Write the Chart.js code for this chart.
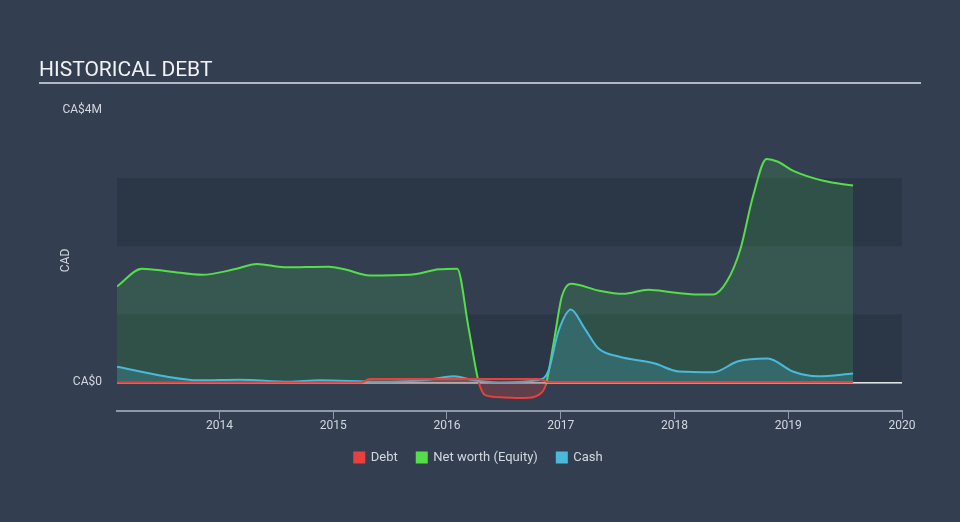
<!DOCTYPE html>
<html>
<head>
<meta charset="utf-8">
<script src="https://cdn.jsdelivr.net/npm/chart.js@4/dist/chart.umd.min.js"></script>
<style>
    body { margin: 0; background: #333f50; }
    #wrap { position: relative; width: 960px; height: 522px; }
    #titolo {
        position: absolute; left: 39px; top: 57px; width: 882px;
        font-family: Roboto, sans-serif; font-size: 21px; color: #f0f2f5;
        border-bottom: 2px solid #b4bac4; padding-bottom: 1px; line-height: 24px;
    }
    canvas { position: absolute; left: 0; top: 0; }
</style>
</head>
<body>
<div id="wrap">
    <canvas id="grafico" width="960" height="522"></canvas>
    <div id="titolo">HISTORICAL DEBT</div>
</div>
<script>
// anni decimali e valori in milioni di CAD
const anniEquity = [2013.10, 2013.32, 2013.56, 2013.85, 2014.13, 2014.33, 2014.57, 2014.96, 2015.10, 2015.32, 2015.67, 2015.93, 2016.09, 2016.19, 2016.28, 2016.34, 2016.50, 2016.68, 2016.81, 2016.87, 2016.94, 2017.01, 2017.09, 2017.33, 2017.55, 2017.77, 2017.99, 2018.21, 2018.34, 2018.46, 2018.58, 2018.69, 2018.81, 2018.91, 2019.04, 2019.31, 2019.57];
const valoriEquity = [1.41, 1.67, 1.63, 1.58, 1.66, 1.74, 1.69, 1.70, 1.66, 1.57, 1.58, 1.66, 1.67, 0.80, 0.00, -0.19, -0.22, -0.23, -0.18, -0.03, 0.60, 1.26, 1.45, 1.35, 1.30, 1.36, 1.32, 1.29, 1.29, 1.48, 1.96, 2.73, 3.28, 3.24, 3.11, 2.96, 2.89];

const anniCash = [2013.10, 2013.52, 2013.82, 2014.18, 2014.61, 2014.88, 2015.40, 2015.84, 2016.06, 2016.24, 2016.46, 2016.81, 2016.89, 2016.98, 2017.09, 2017.20, 2017.33, 2017.51, 2017.82, 2018.04, 2018.34, 2018.56, 2018.82, 2019.04, 2019.26, 2019.57];
const valoriCash = [0.23, 0.09, 0.03, 0.04, 0.01, 0.03, 0.01, 0.04, 0.09, 0.03, 0.00, 0.04, 0.16, 0.75, 1.07, 0.82, 0.50, 0.38, 0.28, 0.16, 0.15, 0.31, 0.35, 0.16, 0.09, 0.13];

const anniDebito = [2013.10, 2015.25, 2015.32, 2016.80, 2016.90, 2019.57];
const valoriDebito = [0.00, 0.00, 0.05, 0.05, 0.005, 0.005];

const tickY = [0, 4];

const rosso = '#e8403c', verde = '#55dd4a', azzurro = '#4ab9dc';

function punti(anni, valori) {
    return anni.map((a, i) => ({ x: a, y: valori[i] }));
}

// bande scure orizzontali
const bande = {
    id: 'bande',
    beforeDatasetsDraw(chart) {
        const { ctx, chartArea, scales } = chart;
        ctx.save();
        ctx.fillStyle = 'rgba(30,40,54,0.35)';
        [[0, 1], [2, 3]].forEach(([a, b]) => {
            const y1 = scales.y.getPixelForValue(b);
            const y2 = scales.y.getPixelForValue(a);
            ctx.fillRect(chartArea.left, y1, chartArea.right - chartArea.left, y2 - y1);
        });
        ctx.restore();
    }
};

const testo = '#d3d8df';

new Chart(document.getElementById('grafico'), {
    type: 'line',
    data: {
        datasets: [{
            label: 'Debt',
            data: punti(anniDebito, valoriDebito),
            borderColor: rosso,
            backgroundColor: rosso,
            borderWidth: 2,
            pointRadius: 0,
            cubicInterpolationMode: 'monotone',
            fill: { target: 'origin', above: 'rgba(232,64,60,0.25)' },
            order: 1
        }, {
            label: 'Net worth (Equity)',
            data: punti(anniEquity, valoriEquity),
            borderColor: verde,
            backgroundColor: verde,
            borderWidth: 2,
            pointRadius: 0,
            cubicInterpolationMode: 'monotone',
            segment: {
                borderColor: c => (c.p0.parsed.y <= 0 && c.p1.parsed.y <= 0) ? rosso : verde
            },
            fill: { target: 'origin', above: 'rgba(70,190,80,0.2)', below: 'rgba(232,64,60,0.25)' },
            order: 3
        }, {
            label: 'Cash',
            data: punti(anniCash, valoriCash),
            borderColor: azzurro,
            backgroundColor: azzurro,
            borderWidth: 2,
            pointRadius: 0,
            cubicInterpolationMode: 'monotone',
            fill: { target: 'origin', above: 'rgba(74,185,220,0.22)' },
            order: 2
        }]
    },
    options: {
        responsive: false,
        animation: false,
        layout: { padding: { left: 55, top: 110, right: 58, bottom: 48 } },
        plugins: {
            tooltip: { enabled: false },
            legend: {
                position: 'bottom',
                labels: {
                    color: testo,
                    boxWidth: 10,
                    boxHeight: 10,
                    padding: 19,
                    font: { family: 'Roboto', size: 13 },
                    sort: (a, b) => a.datasetIndex - b.datasetIndex
                }
            }
        },
        scales: {
            x: {
                type: 'linear',
                min: 2013.1,
                max: 2020,
                afterFit: s => { s.height = 21; },
                border: { color: '#8e99a9', width: 2 },
                grid: { drawOnChartArea: false, drawTicks: true, tickLength: 8, color: '#8e99a9' },
                ticks: {
                    stepSize: 1,
                    includeBounds: false,
                    color: testo,
                    padding: 0,
                    maxRotation: 0,
                    font: { family: 'Roboto', size: 12 },
                    callback: v => String(v)
                }
            },
            y: {
                min: -0.42,
                max: 4,
                afterFit: s => { s.width = 62; },
                afterBuildTicks: s => { s.ticks = tickY.map(v => ({ value: v })); },
                border: { display: false },
                grid: {
                    drawTicks: false,
                    color: c => c.tick && c.tick.value === 0 ? '#ffffff' : 'rgba(0,0,0,0)',
                    lineWidth: 1.5
                },
                title: {
                    display: true,
                    text: 'CAD',
                    color: testo,
                    font: { family: 'Roboto', size: 12 }
                },
                ticks: {
                    color: testo,
                    padding: 15,
                    font: { family: 'Roboto', size: 12 },
                    callback: v => v === 0 ? 'CA$0' : 'CA$' + v + 'M'
                }
            }
        }
    },
    plugins: [bande]
});
</script>
</body>
</html>
